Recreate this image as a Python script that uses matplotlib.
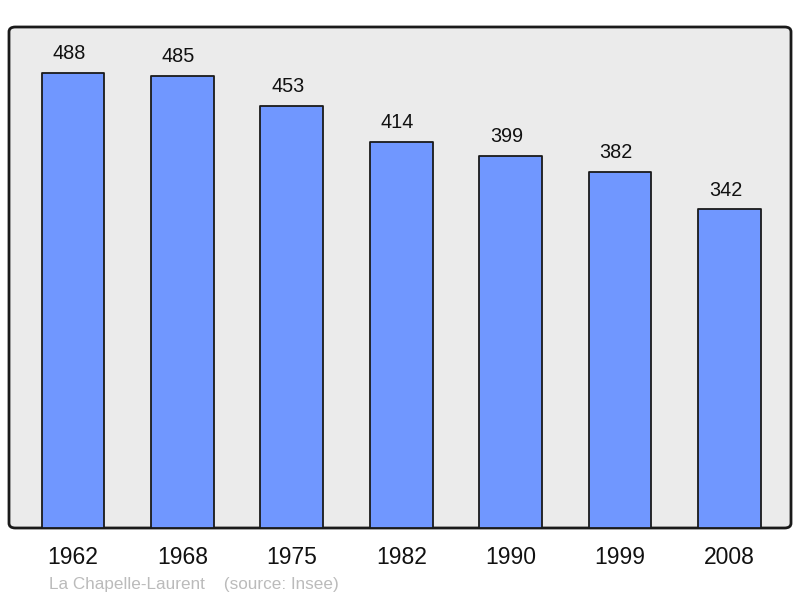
import matplotlib
matplotlib.use("Agg")
import matplotlib.pyplot as plt
from matplotlib.patches import FancyBboxPatch

years = ["1962", "1968", "1975", "1982", "1990", "1999", "2008"]
population = [488, 485, 453, 414, 399, 382, 342]
caption = "La Chapelle-Laurent    (source: Insee)"

plt.rcParams['font.family'] = ['Liberation Sans', 'DejaVu Sans']

fig = plt.figure(figsize=(8.0, 5.98), dpi=100)
W, H = 800, 598
ax = fig.add_axes([9 / W, (H - 528) / H, 782 / W, 501 / H])
ax.set_facecolor('none')
ax.set_zorder(2)
for s in ax.spines.values():
    s.set_visible(False)

# rounded frame
frame = FancyBboxPatch((9 / W, (H - 528) / H), 782 / W, 501 / H,
                       boxstyle="round,pad=0,rounding_size=0.008",
                       transform=fig.transFigure, facecolor='#ebebeb',
                       edgecolor='#1a1a1a', linewidth=2, zorder=-1)
fig.patches.append(frame)

x = list(range(len(years)))
bars = ax.bar(x, population, width=0.575, color='#7097ff', edgecolor='#1a1a1a',
              linewidth=1.3, zorder=2)
for b in bars:
    b.set_joinstyle('round')

for xi, v in zip(x, population):
    ax.annotate(str(v), (xi, v), xytext=(-4, 19), textcoords='offset pixels',
                ha='center', va='center', fontsize=14.3, color='#111111')

ax.set_xlim(-0.585, 6.563)
ax.set_ylim(0, 537.3)
ax.set_yticks([])
ax.set_xticks(x)
ax.set_xticklabels(years, fontsize=16.5, color='#111111')
ax.tick_params(axis='x', length=0, pad=13)

fig.text(49 / W, 1 - 584 / H, caption, ha='left', va='center',
         fontsize=12.3, color='#bbbbbb')

fig.savefig('out.png', dpi=100)
